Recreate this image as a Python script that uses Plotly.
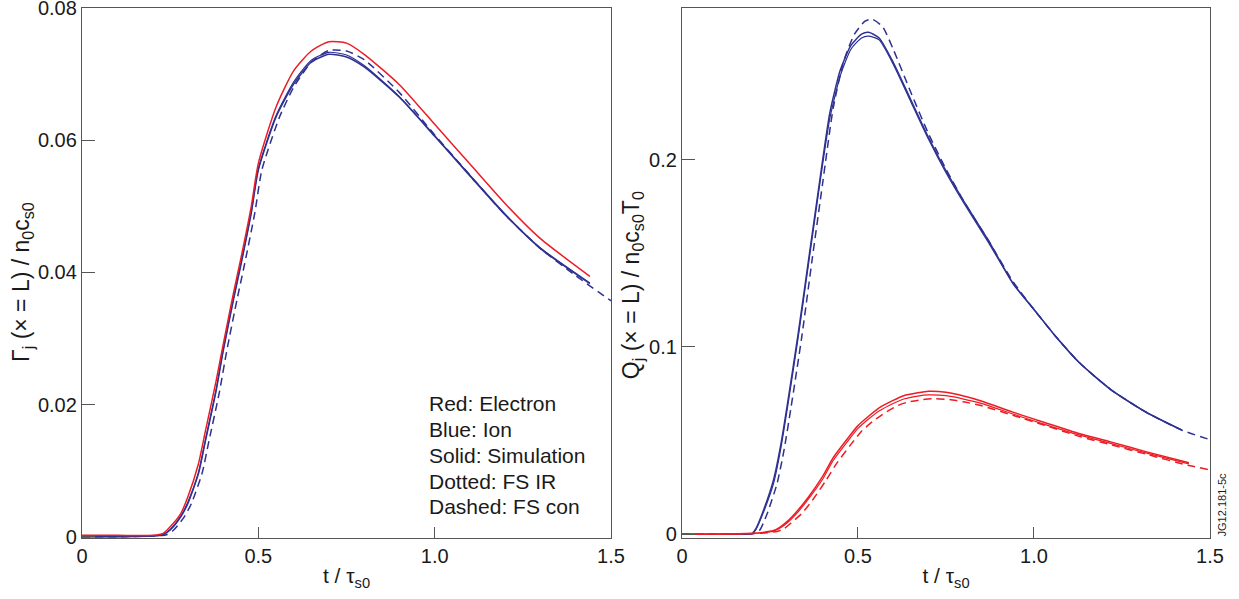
import plotly.graph_objects as go
from plotly.subplots import make_subplots

# ---------------- Data ----------------
# Left panel: particle flux Gamma_j(x=L)/n0 cs0
t_left = [0, 0.1, 0.2, 0.23, 0.25, 0.28, 0.3, 0.33, 0.35, 0.38, 0.4, 0.43, 0.45, 0.48, 0.5,
          0.55, 0.6, 0.65, 0.7, 0.75, 0.8, 0.9, 1.0, 1.1, 1.2, 1.3, 1.44]
gamma_e_sim = [0.0002, 0.0002, 0.0002, 0.0005, 0.0015, 0.0035, 0.006, 0.011, 0.016, 0.0235, 0.029,
               0.037, 0.042, 0.050, 0.0565, 0.065, 0.0705, 0.0735, 0.0749, 0.0747, 0.0730, 0.0684,
               0.0624, 0.0564, 0.0504, 0.0451, 0.0394]
gamma_i_sim = [0, 0, 0.0001, 0.0003, 0.001, 0.003, 0.005, 0.0095, 0.0145, 0.022, 0.028, 0.036,
               0.041, 0.049, 0.0555, 0.0635, 0.0685, 0.0718, 0.0730, 0.0726, 0.0711, 0.0665,
               0.0606, 0.0546, 0.0487, 0.0436, 0.0383]
gamma_i_ir = [0, 0, 0.0001, 0.0003, 0.0011, 0.0031, 0.0052, 0.0097, 0.0147, 0.0222, 0.0282, 0.0362,
              0.0412, 0.0492, 0.0557, 0.0637, 0.0688, 0.0721, 0.0733, 0.0729, 0.0713, 0.0666,
              0.0607, 0.0547, 0.0488, 0.0437, 0.0384]
t_left_con = [0, 0.1, 0.2, 0.24, 0.26, 0.29, 0.31, 0.34, 0.36, 0.39, 0.41, 0.44, 0.46, 0.49, 0.51,
              0.56, 0.6, 0.65, 0.7, 0.75, 0.8, 0.9, 1.0, 1.1, 1.2, 1.3, 1.4, 1.5]
gamma_i_con = [0, 0, 0.0001, 0.0003, 0.001, 0.003, 0.005, 0.0095, 0.0145, 0.022, 0.028, 0.036,
               0.041, 0.049, 0.0555, 0.0635, 0.0680, 0.0718, 0.0736, 0.0735, 0.0722, 0.0672,
               0.0608, 0.0547, 0.0487, 0.0436, 0.0395, 0.0357]

# Right panel: heat flux Q_j(x=L)/n0 cs0 T0
t_ion = [0, 0.1, 0.2, 0.21, 0.23, 0.26, 0.28, 0.3, 0.33, 0.36, 0.39, 0.42, 0.45, 0.48, 0.51, 0.53,
         0.56, 0.6, 0.65, 0.7, 0.75, 0.8, 0.87, 0.94, 1.0, 1.06, 1.13, 1.22, 1.32, 1.42]
q_i_sim = [0, 0, 0.0005, 0.003, 0.012, 0.029, 0.047, 0.070, 0.107, 0.147, 0.187, 0.225, 0.248,
           0.261, 0.267, 0.268, 0.265, 0.252, 0.232, 0.212, 0.194, 0.178, 0.157, 0.134, 0.120,
           0.106, 0.0914, 0.077, 0.065, 0.0556]
q_i_ir = [0, 0, 0.0004, 0.0025, 0.011, 0.027, 0.045, 0.068, 0.105, 0.145, 0.185, 0.222, 0.245,
          0.259, 0.265, 0.266, 0.264, 0.251, 0.231, 0.211, 0.193, 0.177, 0.156, 0.134, 0.120,
          0.106, 0.0914, 0.077, 0.065, 0.0556]
t_ion_con = [0, 0.1, 0.2, 0.22, 0.24, 0.27, 0.29, 0.31, 0.34, 0.37, 0.4, 0.43, 0.46, 0.49, 0.52,
             0.54, 0.57, 0.6, 0.65, 0.7, 0.75, 0.8, 0.87, 0.94, 1.0, 1.06, 1.13, 1.22, 1.32, 1.42, 1.5]
q_i_con = [0, 0, 0.0003, 0.002, 0.010, 0.027, 0.045, 0.068, 0.105, 0.147, 0.188, 0.228, 0.253,
           0.267, 0.274, 0.275, 0.271, 0.259, 0.236, 0.214, 0.195, 0.178, 0.157, 0.135, 0.120,
           0.106, 0.0914, 0.077, 0.065, 0.0556, 0.0505]

t_el = [0, 0.1, 0.2, 0.23, 0.26, 0.28, 0.3, 0.33, 0.36, 0.4, 0.43, 0.47, 0.5, 0.53, 0.56, 0.6,
        0.63, 0.67, 0.7, 0.75, 0.8, 0.85, 0.94, 1.03, 1.13, 1.22, 1.32, 1.44]
q_e_sim = [0, 0, 0.0005, 0.001, 0.002, 0.004, 0.007, 0.013, 0.020, 0.031, 0.041, 0.051, 0.058,
           0.063, 0.0675, 0.0715, 0.0740, 0.0755, 0.0763, 0.0758, 0.0738, 0.0712, 0.0652,
           0.0597, 0.0537, 0.0492, 0.0440, 0.0382]
q_e_ir = [0, 0, 0.0004, 0.0008, 0.0017, 0.0035, 0.0063, 0.012, 0.019, 0.0295, 0.0395, 0.0495,
          0.0565, 0.0615, 0.0658, 0.0698, 0.0722, 0.0738, 0.0744, 0.0740, 0.0722, 0.0699,
          0.0642, 0.0587, 0.0529, 0.0484, 0.0433, 0.0376]
t_el_con = [0, 0.1, 0.2, 0.24, 0.27, 0.29, 0.31, 0.34, 0.37, 0.41, 0.44, 0.48, 0.51, 0.54, 0.57,
            0.61, 0.64, 0.68, 0.72, 0.76, 0.8, 0.85, 0.94, 1.03, 1.13, 1.22, 1.32, 1.44, 1.5]
q_e_con = [0, 0, 0.0003, 0.0008, 0.0015, 0.003, 0.006, 0.011, 0.018, 0.029, 0.038, 0.048, 0.055,
           0.060, 0.064, 0.0685, 0.0705, 0.0718, 0.0724, 0.0719, 0.0707, 0.0687, 0.0635,
           0.0582, 0.0522, 0.0477, 0.0427, 0.0367, 0.0344]

x_ticks = [0, 0.5, 1.0, 1.5]
x_ticklabels = ["0", "0.5", "1.0", "1.5"]
yl_ticks = [0, 0.02, 0.04, 0.06, 0.08]
yl_ticklabels = ["0", "0.02", "0.04", "0.06", "0.08"]
yr_ticks = [0, 0.1, 0.2]
yr_ticklabels = ["0", "0.1", "0.2"]

legend_lines = ["Red: Electron", "Blue: Ion", "Solid: Simulation", "Dotted: FS IR", "Dashed: FS con"]

# ---------------- Figure ----------------
RED = "#ec1c24"
BLUE = "#2e3192"
FONT = "Arial, Liberation Sans, sans-serif"
TXT = "#1a1a1a"
DASH = "8px,5px"

fig = make_subplots(rows=1, cols=2)

def line(x, y, color, dash="solid", col=1, width=1.5):
    fig.add_trace(go.Scatter(x=x, y=y, mode="lines",
                             line=dict(color=color, width=width, dash=dash, shape="spline",
                                       smoothing=0.6),
                             showlegend=False, hoverinfo="skip"), row=1, col=col)

# left
line(t_left_con, gamma_i_con, BLUE, DASH, 1)
line(t_left, gamma_i_ir, BLUE, "solid", 1, 1.2)
line(t_left, gamma_i_sim, BLUE, "solid", 1)
line(t_left, gamma_e_sim, RED, "solid", 1)
# right
line(t_ion_con, q_i_con, BLUE, DASH, 2)
line(t_ion, q_i_ir, BLUE, "solid", 2, 1.2)
line(t_ion, q_i_sim, BLUE, "solid", 2)
line(t_el_con, q_e_con, RED, DASH, 2)
line(t_el, q_e_ir, RED, "solid", 2, 1.2)
line(t_el, q_e_sim, RED, "solid", 2)

axis_common = dict(showline=True, mirror=True, linecolor="#555555", linewidth=1.3,
                   showgrid=False, zeroline=False, ticks="inside", tickcolor="#555555",
                   tickwidth=1.2, automargin=False, ticklabeloverflow="allow",
                   tickfont=dict(family=FONT, size=20, color=TXT))

for c in (1, 2):
    fig.update_xaxes(range=[0, 1.5], tickvals=x_ticks, ticktext=x_ticklabels, ticklen=11,
                     title=dict(text="t / τ<sub>s0</sub>", font=dict(family=FONT, size=21, color=TXT),
                                standoff=2),
                     row=1, col=c, **axis_common)

fig.update_yaxes(range=[-0.0002, 0.08001], tickvals=yl_ticks, ticktext=yl_ticklabels, ticklen=13,
                 row=1, col=1, **axis_common)
fig.update_yaxes(range=[-0.002, 0.281], tickvals=yr_ticks, ticktext=yr_ticklabels, ticklen=13,
                 row=1, col=2, **axis_common)

# y-axis titles as rotated annotations
fig.add_annotation(x=-0.0532, y=0.483, xref="paper", yref="paper",
                   text="Γ<sub>j</sub> (× = L) / n<sub>0</sub>c<sub>s0</sub>",
                   showarrow=False, textangle=-90, xanchor="center", yanchor="middle",
                   font=dict(family=FONT, size=23, color=TXT))
fig.add_annotation(x=0.4876, y=0.477, xref="paper", yref="paper",
                   text="Q<sub>j</sub> (× = L) / n<sub>0</sub>c<sub>s0</sub>T<sub>0</sub>",
                   showarrow=False, textangle=-90, xanchor="center", yanchor="middle",
                   font=dict(family=FONT, size=23, color=TXT))

# text block in left panel
y0 = 0.0201
dy = 0.0039
for i, txt in enumerate(legend_lines):
    fig.add_annotation(x=0.977, y=y0 - i * dy, xref="x", yref="y", text=txt, showarrow=False,
                       xanchor="left", yanchor="middle",
                       font=dict(family=FONT, size=21, color=TXT))

fig.add_annotation(x=1.0106, y=0.0, xref="paper", yref="paper", text="JG12.181-5c",
                   showarrow=False, textangle=-90, xanchor="center", yanchor="bottom",
                   font=dict(family=FONT, size=11, color=TXT))

fig.update_layout(width=1239, height=599, paper_bgcolor="white", plot_bgcolor="white",
                  margin=dict(l=82, r=29, t=8, b=61))
fig.update_xaxes(domain=[0, 0.469], row=1, col=1)
fig.update_xaxes(domain=[0.5319, 1.0], row=1, col=2)

fig.write_html("out.html", config={"displayModeBar": False},
               post_script="document.body.style.margin='0px';")
